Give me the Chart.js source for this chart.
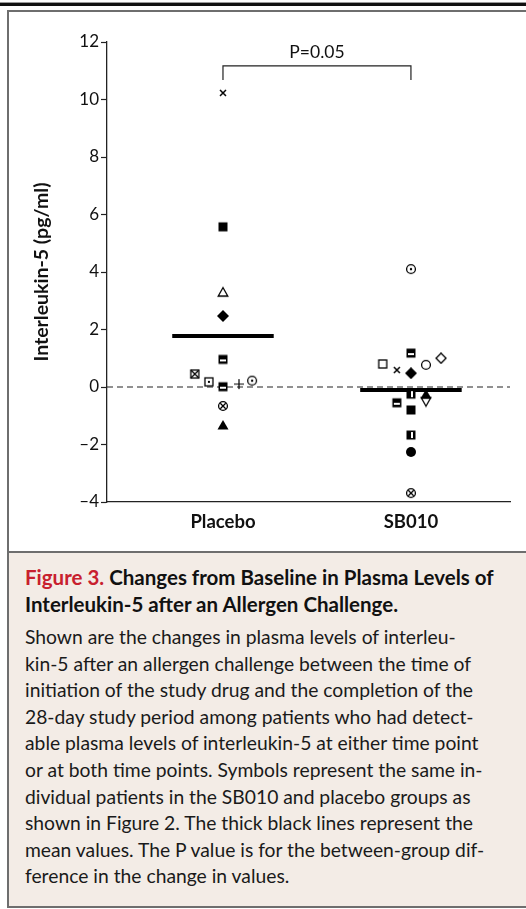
<!DOCTYPE html>
<html>
<head>
<meta charset="utf-8">
<script src="https://cdn.jsdelivr.net/npm/chart.js@4/dist/chart.umd.min.js"></script>
<style>
  body { margin: 0; width: 526px; height: 909px; overflow: hidden; background: #fff; position: relative; font-family: Lato, "Open Sans", sans-serif; }
  .topgray { position: absolute; left: 0; top: 2px; width: 526px; height: 1px; background: #9a9a9a; }
  .topline { position: absolute; left: 0; top: 3px; width: 526px; height: 3px; background: #111; }
  .frame { position: absolute; left: 7px; top: 10px; width: 540px; height: 898px; border: 2px solid #6e6e6e; box-sizing: border-box; }
  .sep { position: absolute; left: 9px; top: 551px; width: 520px; height: 2px; background: #6e6e6e; }
  .caption { position: absolute; left: 9px; top: 553px; width: 520px; height: 353px; background: #f3ece6; }
  .chartbox { position: absolute; left: 9px; top: 12px; width: 517px; height: 539px; }
  .title { position: absolute; left: 25px; top: 564px; font-size: 20.5px; line-height: 26.5px; font-weight: bold; color: #111; white-space: nowrap; }
  .title span { color: #c8202e; }
  .body { position: absolute; left: 25px; top: 624px; font-size: 19.3px; line-height: 26.6px; color: #1a1a1a; white-space: nowrap; }
</style>
</head>
<body>
<div class="topgray"></div>
<div class="topline"></div>
<div class="frame"></div>
<div class="sep"></div>
<div class="caption"></div>
<div class="chartbox"><canvas id="il5Chart" width="517" height="539"></canvas></div>
<div class="title"><span>Figure 3.</span> Changes from Baseline in Plasma Levels of<br>Interleukin-5 after an Allergen Challenge.</div>
<div class="body">Shown are the changes in plasma levels of interleu-<br>kin-5 after an allergen challenge between the time of<br>initiation of the study drug and the completion of the<br>28-day study period among patients who had detect-<br>able plasma levels of interleukin-5 at either time point<br>or at both time points. Symbols represent the same in-<br>dividual patients in the SB010 and placebo groups as<br>shown in Figure 2. The thick black lines represent the<br>mean values. The P value is for the between-group dif-<br>ference in the change in values.</div>
<script>
// group names on the x axis
const categories = ['Placebo', 'SB010'];

// change in IL-5 (pg/ml) per patient
const placeboValues = [10.23, 5.57, 3.30, 2.47, 0.96, 0.45, 0.18, 0.01, 0.10, 0.22, -0.66, -1.32];
const placeboJitter = [0, 0, 0, 0, 0, -0.15, -0.075, 0, 0.085, 0.155, 0, 0];
const placeboSymbols = ['cross', 'sqFill', 'triOpen', 'diaFill', 'sqHalfTop', 'sqX', 'sqDot', 'sqHalfTop', 'plus', 'circDot', 'circX', 'triFill'];

const sb010Values = [4.10, 1.18, 0.80, 0.59, 0.48, 0.77, 1.00, -0.25, -0.25, -0.51, -0.55, -0.80, -1.67, -2.26, -3.69];
const sb010Jitter = [0, 0, -0.15, -0.075, 0, 0.08, 0.16, 0, 0.08, 0.08, -0.075, 0, 0, 0, 0];
const sb010Symbols = ['circDot', 'sqHalfTop', 'sqOpen', 'cross', 'diaFill', 'circOpen', 'diaOpen', 'sqHalfLeft', 'triFill', 'triDown', 'sqHalfTop', 'sqFill', 'sqHalfLeft', 'circFill', 'circX'];

// group means (thick bars)
const meanValues = [1.77, -0.10];

const yTicks = [-4, -2, 0, 2, 4, 6, 8, 10, 12];
const pLabel = 'P=0.05';
const bracketLow = 10.68;
const bracketHigh = 11.17;

const fontFamily = 'Lato, "Open Sans", sans-serif';

// small canvases used as point symbols
function makeSymbol(kind) {
  const c = document.createElement('canvas');
  c.width = 12; c.height = 12;
  const g = c.getContext('2d');
  g.fillStyle = '#000'; g.strokeStyle = '#000'; g.lineWidth = 1.3;
  const m = 6;
  switch (kind) {
    case 'sqFill': g.fillRect(1.5, 1.5, 9, 9); break;
    case 'sqOpen': g.strokeRect(2, 2, 8, 8); break;
    case 'sqX':
      g.strokeRect(2, 2, 8, 8);
      g.beginPath(); g.moveTo(2, 2); g.lineTo(10, 10); g.moveTo(10, 2); g.lineTo(2, 10); g.stroke();
      break;
    case 'sqDot':
      g.strokeRect(2, 2, 8, 8); g.fillRect(5, 5, 2, 2); break;
    case 'sqHalfTop':
      g.fillRect(1.5, 1.5, 9, 9); g.fillStyle = '#fff'; g.fillRect(3, 6, 6, 2); break;
    case 'sqHalfLeft':
      g.fillRect(1.5, 1.5, 9, 9); g.fillStyle = '#fff'; g.fillRect(6, 3, 2, 6); break;
    case 'circFill': g.beginPath(); g.arc(m, m, 5, 0, Math.PI * 2); g.fill(); break;
    case 'circOpen': g.beginPath(); g.arc(m, m, 4.4, 0, Math.PI * 2); g.stroke(); break;
    case 'circDot':
      g.beginPath(); g.arc(m, m, 4.4, 0, Math.PI * 2); g.stroke();
      g.beginPath(); g.arc(m, m, 1.2, 0, Math.PI * 2); g.fill(); break;
    case 'circX':
      g.beginPath(); g.arc(m, m, 4.4, 0, Math.PI * 2); g.stroke();
      g.beginPath(); g.moveTo(3.3, 3.3); g.lineTo(8.7, 8.7); g.moveTo(8.7, 3.3); g.lineTo(3.3, 8.7); g.stroke(); break;
    case 'triOpen':
      g.beginPath(); g.moveTo(m, 1.5); g.lineTo(10.8, 10); g.lineTo(1.2, 10); g.closePath(); g.stroke(); break;
    case 'triFill':
      g.beginPath(); g.moveTo(m, 1); g.lineTo(11.5, 10.5); g.lineTo(0.5, 10.5); g.closePath(); g.fill(); break;
    case 'triDown':
      g.beginPath(); g.moveTo(1.2, 2); g.lineTo(10.8, 2); g.lineTo(m, 10.5); g.closePath(); g.stroke(); break;
    case 'diaFill':
      g.beginPath(); g.moveTo(m, 0); g.lineTo(12, m); g.lineTo(m, 12); g.lineTo(0, m); g.closePath(); g.fill(); break;
    case 'diaOpen':
      g.beginPath(); g.moveTo(m, 1); g.lineTo(11, m); g.lineTo(m, 11); g.lineTo(1, m); g.closePath(); g.stroke(); break;
    case 'cross':
      g.lineWidth = 1.5;
      g.beginPath(); g.moveTo(3, 3); g.lineTo(9, 9); g.moveTo(9, 3); g.lineTo(3, 9); g.stroke(); break;
    case 'plus':
      g.lineWidth = 1.2;
      g.beginPath(); g.moveTo(m, 1); g.lineTo(m, 11); g.moveTo(1, m); g.lineTo(11, m); g.stroke(); break;
  }
  return c;
}

function groupPoints(values, jitter, center) {
  return values.map((v, i) => ({ x: center + jitter[i], y: v }));
}

const meanHalf = 0.27;
const xMin = 0.383, xMax = 2.527;

const pLabelPlugin = {
  id: 'pLabel',
  afterDatasetsDraw(chart) {
    const { ctx, scales } = chart;
    ctx.save();
    ctx.fillStyle = '#111';
    ctx.font = '17.5px ' + fontFamily;
    ctx.textAlign = 'center';
    ctx.textBaseline = 'middle';
    ctx.fillText(pLabel, scales.x.getPixelForValue(1.5), scales.y.getPixelForValue(11.65));
    ctx.restore();
  }
};

const ctx = document.getElementById('il5Chart').getContext('2d');
new Chart(ctx, {
  type: 'scatter',
  data: {
    datasets: [
      {
        data: groupPoints(placeboValues, placeboJitter, 1),
        pointStyle: placeboSymbols.map(makeSymbol),
        pointRadius: 5,
        order: 0
      },
      {
        data: groupPoints(sb010Values, sb010Jitter, 2),
        pointStyle: sb010Symbols.map(makeSymbol),
        pointRadius: 5,
        order: 0
      },
      {
        type: 'line',
        data: [{ x: 1 - meanHalf, y: meanValues[0] }, { x: 1 + meanHalf, y: meanValues[0] }],
        borderColor: '#000', borderWidth: 4, pointRadius: 0, order: 2
      },
      {
        type: 'line',
        data: [{ x: 2 - meanHalf, y: meanValues[1] }, { x: 2 + meanHalf, y: meanValues[1] }],
        borderColor: '#000', borderWidth: 4, pointRadius: 0, order: 2
      },
      {
        type: 'line',
        data: [{ x: xMin, y: 0 }, { x: xMax, y: 0 }],
        borderColor: '#222', borderWidth: 1.2, borderDash: [6, 4], pointRadius: 0, order: 3
      },
      {
        type: 'line',
        data: [{ x: 1, y: bracketLow }, { x: 1, y: bracketHigh }, { x: 2, y: bracketHigh }, { x: 2, y: bracketLow }],
        borderColor: '#222', borderWidth: 1.2, pointRadius: 0, order: 3
      }
    ]
  },
  options: {
    responsive: false,
    animation: false,
    layout: { padding: { top: 30, right: 16, left: 0, bottom: 0 } },
    plugins: { legend: { display: false }, tooltip: { enabled: false } },
    scales: {
      x: {
        type: 'linear',
        min: xMin,
        max: xMax,
        afterFit(scale) { scale.height = 49; },
        afterBuildTicks(scale) { scale.ticks = categories.map((c, i) => ({ value: i + 1 })); },
        grid: { drawOnChartArea: false, drawTicks: false },
        border: { color: '#222', width: 1.3 },
        ticks: {
          padding: 9,
          color: '#111',
          font: { family: fontFamily, size: 18.5, weight: 'bold' },
          callback: (v) => categories[Math.round(v) - 1]
        }
      },
      y: {
        min: -4,
        max: 12,
        afterFit(scale) { scale.width = 98; },
        afterBuildTicks(scale) { scale.ticks = yTicks.map(v => ({ value: v })); },
        grid: { drawOnChartArea: false, drawTicks: true, tickLength: 6, color: '#222', tickWidth: 1.2 },
        border: { color: '#222', width: 1.3 },
        ticks: {
          padding: 2,
          color: '#111',
          font: { family: fontFamily, size: 17 },
          callback: (v) => String(v).replace('-', '\u2013')
        },
        title: {
          display: true,
          text: 'Interleukin-5 (pg/ml)',
          color: '#111',
          padding: { top: 21 },
          font: { family: fontFamily, size: 19.5, weight: 'bold' }
        }
      }
    }
  },
  plugins: [pLabelPlugin]
});
</script>
</body>
</html>
